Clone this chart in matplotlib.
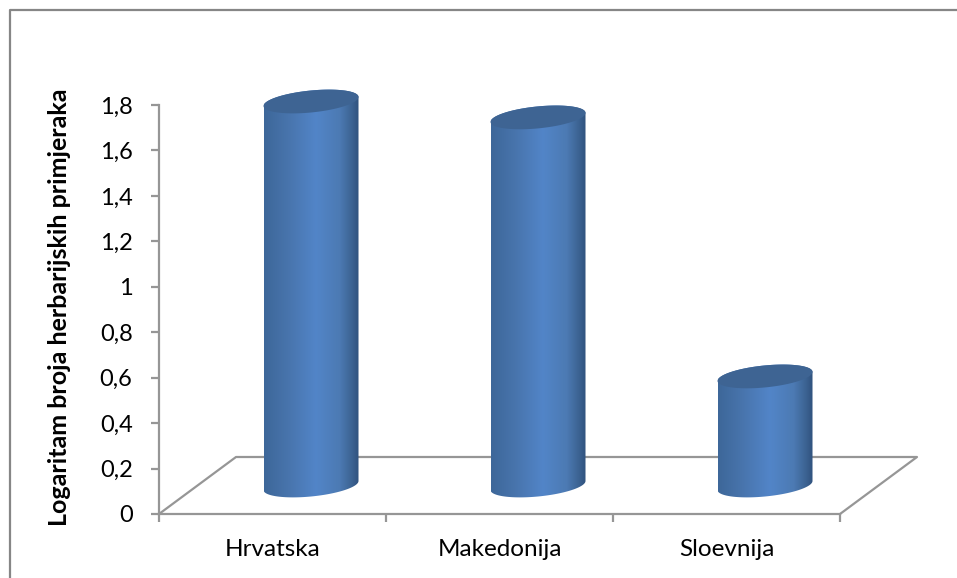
import numpy as np
from matplotlib import pyplot as plt
from matplotlib.colors import LinearSegmentedColormap
from matplotlib.lines import Line2D
from matplotlib.patches import PathPatch
from matplotlib.path import Path

categories = ['Hrvatska', 'Makedonija', 'Sloevnija']
values = [1.69, 1.62, 0.48]
y_ticks = [0, 0.2, 0.4, 0.6, 0.8, 1, 1.2, 1.4, 1.6, 1.8]
y_labels = ['0', '0,2', '0,4', '0,6', '0,8', '1', '1,2', '1,4', '1,6', '1,8']

W, H = 957, 578
GREY = '#969696'

plt.rcParams['font.family'] = ['Lato', 'DejaVu Sans']

fig = plt.figure(figsize=(W / 100, H / 100), dpi=100, facecolor='white')
# os u pikselima: x 159-840, y 514-105
ax = fig.add_axes([159 / W, 1 - 514 / H, (840 - 159) / W, (514 - 105) / H])
ax.patch.set_visible(False)

# pomak dubine 3D poda
px_x = 3 / (840 - 159)
px_y = 1.8 / (514 - 105)
depth_x = 77 * px_x
depth_y = 57 * px_y

# pod
floor_x = [0, depth_x, 3 + depth_x, 3]
floor_y = [0, depth_y, depth_y, 0]
ax.plot(floor_x, floor_y, color=GREY, lw=1.6, clip_on=False, zorder=1)

# cilindri
cmap = LinearSegmentedColormap.from_list('cyl', [
    (0.0, '#3D6799'), (0.25, '#4874AC'), (0.55, '#5285C8'),
    (0.80, '#4C7AB3'), (0.92, '#3D6494'), (1.0, '#30527E')])
half_w = 47.5 * px_x
tilt = 4.5 * px_y
half_h = 11.0 * px_y
t = np.linspace(0, 2 * np.pi, 121)

for i, v in enumerate(values):
    cx = i + 0.5 + depth_x / 2
    y0 = depth_y / 2
    y1 = y0 + v
    ex = half_w * np.cos(t)
    ey = tilt * np.cos(t) + half_h * np.sin(t)

    # bok: donji luk pa gornji luk unazad
    low = t[60:121]
    bx = cx + half_w * np.cos(low)
    by = y0 + tilt * np.cos(low) + half_h * np.sin(low)
    top = t[60::-1][::-1]
    tx = cx + half_w * np.cos(top)
    ty = y1 + tilt * np.cos(top) + half_h * np.sin(top)
    verts = np.column_stack([np.r_[bx, tx], np.r_[by, ty]])
    body = PathPatch(Path(np.vstack([verts, verts[0]]), closed=True), fc='none', ec='none')
    ax.add_patch(body)
    img = ax.imshow(np.linspace(0, 1, 256).reshape(1, -1), cmap=cmap, aspect='auto',
                    extent=[cx - half_w, cx + half_w, 0, 2.2], zorder=2, interpolation='bilinear')
    # slika ne smije stati na rubu osi, vrh cilindra ide iznad 1,8
    img.set_clip_box(fig.bbox)
    img.set_clip_path(body)
    ax.fill(cx + ex, y1 + ey, color='#3E6493', lw=0, zorder=3, clip_on=False)

ax.set_xlim(0, 3)
ax.set_ylim(0, 1.8)

for name in ['top', 'right']:
    ax.spines[name].set_visible(False)
for name in ['left', 'bottom']:
    ax.spines[name].set_color(GREY)
    ax.spines[name].set_linewidth(1.6)

ax.set_yticks(y_ticks)
ax.set_yticklabels(y_labels, fontsize=17, color='black')
ax.set_xticks([0, 1, 2, 3])
ax.set_xticklabels([])
ax.set_xticks([0.5, 1.5, 2.5], labels=categories, minor=True, fontsize=17.5)
ax.tick_params(axis='x', which='minor', length=0, pad=18)
ax.tick_params(axis='both', which='major', color=GREY, width=1.6, length=6)
ax.tick_params(axis='y', pad=13)

fig.text(60 / W, 1 - 307 / H, 'Logaritam broja herbarijskih primjeraka', rotation=90,
         ha='center', va='center', fontsize=18, fontweight='bold')

# okvir grafikona, desno i dolje je odrezan
fig.add_artist(Line2D([9.5 / W, 9.5 / W, 1], [0, 1 - 10 / H, 1 - 10 / H],
                      color='#868686', lw=1.6))

fig.savefig('out.png', dpi=100)
